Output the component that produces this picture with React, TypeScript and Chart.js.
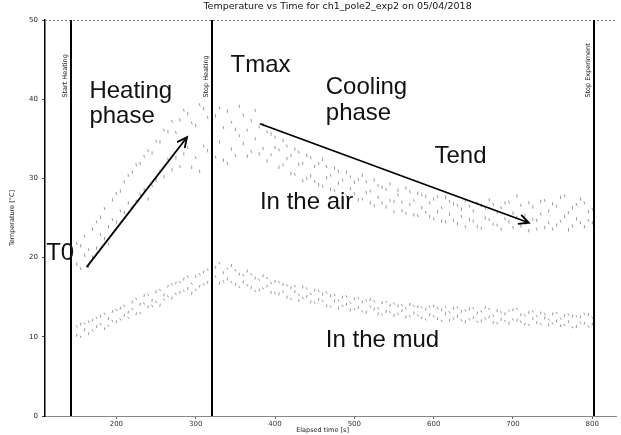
import { useEffect, useRef } from "react";
import { Chart, registerables } from "chart.js";

Chart.register(...registerables);

const chartTitle = "Temperature vs Time for ch1_pole2_exp2 on 05/04/2018";
const xAxisTitle = "Elapsed time [s]";
const yAxisTitle = "Temperature [°C]";

const xTickValues = [200, 300, 400, 500, 600, 700, 800];
const yTickValues = [0, 10, 20, 30, 40, 50];

const times = [
  150, 155, 160, 165, 170, 175, 180, 185, 190, 195,
  200, 205, 210, 215, 220, 225, 230, 235, 240, 245,
  250, 255, 260, 265, 270, 275, 280, 285, 290, 295,
  300, 305, 310, 315, 320, 325, 330, 335, 340, 345,
  350, 355, 360, 365, 370, 375, 380, 385, 390, 395,
  400, 405, 410, 415, 420, 425, 430, 435, 440, 445,
  450, 455, 460, 465, 470, 475, 480, 485, 490, 495,
  500, 505, 510, 515, 520, 525, 530, 535, 540, 545,
  550, 555, 560, 565, 570, 575, 580, 585, 590, 595,
  600, 605, 610, 615, 620, 625, 630, 635, 640, 645,
  650, 655, 660, 665, 670, 675, 680, 685, 690, 695,
  700, 705, 710, 715, 720, 725, 730, 735, 740, 745,
  750, 755, 760, 765, 770, 775, 780, 785, 790, 795,
  800,
];

const airA = [
  19.2, 21.5, 20.3, 18.9, 23.6, 21.2, 25.1, 22.4, 23.9, 27.3,
  24.5, 28.4, 25.7, 26.9, 30.8, 27.1, 31.9, 28.6, 27.4, 33.2,
  29.8, 34.6, 30.2, 35.9, 31.1, 32.6, 37.4, 33.1, 38.2, 31.4,
  36.7, 30.9, 38.8, 33.5, 31.2, 37.9, 34.6, 32.3, 38.5, 33.7,
  36.2, 39.1, 34.4, 32.8, 37.3, 35.0, 33.1, 36.8, 32.2, 35.6,
  33.9, 31.4, 34.8, 32.5, 30.6, 33.7, 31.8, 29.7, 32.9, 30.3,
  31.5, 29.2, 32.4, 30.1, 28.6, 31.3, 29.4, 27.9, 30.8, 28.7,
  29.5, 27.3, 30.4, 28.2, 26.9, 29.8, 27.6, 28.9, 26.4, 29.3,
  27.1, 28.5, 25.9, 28.8, 26.7, 25.4, 28.1, 26.3, 27.7, 25.2,
  27.4, 25.8, 24.6, 27.6, 25.5, 26.8, 24.3, 26.1, 27.2, 24.8,
  25.9, 23.9, 26.6, 25.0, 27.3, 24.2, 25.7, 23.6, 26.9, 24.5,
  25.6, 27.8, 24.0, 25.3, 23.4, 26.4, 24.7, 27.1, 23.8, 25.9,
  26.8, 24.1, 27.6, 25.2, 23.5, 26.3, 24.9, 27.4, 23.9, 25.8,
  24.4,
];

const airB = [
  21.8, 18.6, 22.7, 21.0, 20.1, 24.5, 22.9, 26.2, 21.7, 24.8,
  28.1, 25.9, 29.6, 30.4, 26.3, 31.7, 28.0, 32.8, 33.5, 29.1,
  34.7, 30.9, 36.1, 32.4, 37.2, 35.8, 31.5, 38.6, 33.9, 37.0,
  32.6, 39.3, 34.1, 37.7, 36.0, 32.7, 38.9, 36.4, 31.9, 37.1,
  32.9, 35.4, 38.0, 36.1, 33.4, 38.6, 36.5, 33.8, 35.9, 33.0,
  35.2, 33.6, 31.7, 34.1, 32.9, 30.5, 33.3, 31.9, 30.0, 32.6,
  29.6, 31.9, 29.0, 31.5, 30.4, 28.5, 30.9, 29.8, 27.8, 30.2,
  28.1, 29.9, 27.4, 29.6, 28.4, 26.6, 29.1, 26.9, 28.6, 27.2,
  25.8, 27.9, 27.0, 25.6, 28.3, 27.2, 25.3, 27.9, 25.7, 26.9,
  24.9, 27.7, 26.3, 24.5, 27.1, 24.7, 26.6, 25.2, 23.9, 26.5,
  24.6, 26.9, 23.7, 26.2, 24.8, 26.7, 24.1, 26.3, 24.9, 27.0,
  23.8, 25.1, 26.6, 24.3, 26.9, 24.8, 23.6, 25.5, 27.2, 24.4,
  23.6, 26.5, 24.6, 27.8, 25.7, 24.0, 26.7, 24.4, 26.9, 24.7,
  26.1,
];

const mudA = [
  10.2, 11.6, 10.9, 10.4, 12.1, 11.3, 12.6, 11.0, 12.3, 13.2,
  11.9, 13.6, 12.7, 13.1, 14.4, 12.9, 14.1, 15.2, 13.8, 14.6,
  15.7, 14.0, 15.3, 16.4, 14.9, 16.8, 15.6, 17.3, 16.1, 15.5,
  17.6, 16.4, 18.2, 16.9, 17.4, 18.8, 16.8, 18.1, 17.3, 19.0,
  16.6, 17.9, 16.9, 18.3, 16.2, 17.4, 15.9, 17.7, 16.4, 15.6,
  17.0, 15.4, 16.6, 15.0, 16.2, 15.7, 14.6, 16.3, 15.1, 14.4,
  15.9, 14.7, 15.4, 13.9, 15.2, 14.5, 13.6, 15.0, 14.1, 13.4,
  14.8, 13.7, 14.4, 13.1, 14.7, 13.5, 12.9, 14.3, 13.2, 14.0,
  12.7, 13.9, 13.3, 12.5, 14.1, 13.0, 13.8, 12.4, 13.5, 12.8,
  13.9, 12.3, 13.4, 12.9, 12.1, 13.6, 12.6, 13.2, 11.9, 13.5,
  12.4, 13.0, 12.0, 13.7, 12.5, 11.8, 13.3, 12.2, 12.9, 11.7,
  13.4, 12.1, 12.8, 11.6, 13.1, 12.3, 11.8, 13.0, 12.4, 11.5,
  12.9, 12.0, 11.4, 12.7, 11.9, 12.6, 11.3, 12.5, 11.7, 12.8,
  11.6,
];

const mudB = [
  11.3, 10.0, 11.7, 11.9, 10.8, 12.4, 11.6, 12.9, 11.4, 12.0,
  13.4, 12.2, 13.9, 12.4, 13.5, 14.8, 13.0, 14.2, 15.3, 13.9,
  14.4, 15.9, 14.7, 15.1, 16.6, 15.4, 16.9, 15.8, 17.6, 16.7,
  15.9, 17.9, 16.6, 18.5, 16.4, 17.6, 19.3, 17.0, 18.6, 16.9,
  18.4, 16.3, 17.8, 16.5, 17.9, 15.8, 17.2, 16.1, 17.4, 16.8,
  15.5, 16.9, 15.7, 16.5, 14.8, 16.4, 15.3, 14.9, 16.1, 15.4,
  14.3, 15.8, 14.5, 15.6, 13.8, 15.3, 14.6, 13.9, 15.1, 14.3,
  13.5, 14.9, 13.2, 14.6, 13.8, 14.5, 13.6, 12.8, 14.4, 13.1,
  14.2, 12.9, 14.0, 13.6, 12.6, 13.9, 12.7, 13.7, 12.2, 13.8,
  12.6, 13.6, 12.0, 13.8, 13.1, 12.3, 13.7, 12.1, 13.3, 12.2,
  13.6, 11.9, 13.2, 12.3, 13.5, 12.7, 11.7, 13.1, 12.0, 13.3,
  12.2, 13.5, 11.9, 12.7, 11.5, 13.2, 12.6, 11.6, 12.9, 12.2,
  11.7, 13.0, 12.3, 11.5, 12.8, 11.2, 12.6, 11.8, 12.9, 11.3,
  12.4,
];

// vertical event markers (elapsed time, label)
const eventTimes = [142.5, 321, 802.5];
const eventLabels = ["Start Heating", "Stop Heating", "Stop Experiment"];

// annotation arrows [x0, y0, x1, y1] in data units
const arrowHeating = [162.5, 18.8, 289, 35.2];
const arrowCooling = [381, 36.9, 720, 24.4];

// annotation texts: text, x (s), y (°C baseline)
const noteTexts = ["Heating", "phase", "Tmax", "Cooling", "phase", "Tend", "In the air", "In the mud", "T0"];
const noteX = [166, 166, 344, 464, 464, 601, 381, 464, 111.5];
const noteY = [40.2, 37.0, 43.4, 40.7, 37.4, 31.9, 26.1, 8.7, 19.7];

function toPoints(xs: number[], ys: number[]) {
  return xs.map((x, i) => ({ x, y: ys[i] }));
}

const overlayPlugin = {
  id: "overlay",
  afterDatasetsDraw(chart: any) {
    const { ctx, chartArea, scales } = chart;
    const xs = scales.x;
    const ys = scales.y;
    ctx.save();

    // dotted top border
    ctx.strokeStyle = "#777";
    ctx.lineWidth = 1;
    ctx.setLineDash([2, 2]);
    ctx.beginPath();
    ctx.moveTo(chartArea.left, chartArea.top + 0.5);
    ctx.lineTo(chartArea.right, chartArea.top + 0.5);
    ctx.stroke();
    ctx.setLineDash([]);

    // event lines and labels
    eventTimes.forEach((t, i) => {
      const px = Math.round(xs.getPixelForValue(t));
      ctx.strokeStyle = "#000";
      ctx.lineWidth = 2;
      ctx.beginPath();
      ctx.moveTo(px, chartArea.top);
      ctx.lineTo(px, chartArea.bottom);
      ctx.stroke();
      ctx.save();
      ctx.translate(px - 6, ys.getPixelForValue(40.2));
      ctx.rotate(-Math.PI / 2);
      ctx.fillStyle = "#222";
      ctx.font = "6.5px 'DejaVu Sans'";
      ctx.textAlign = "left";
      ctx.textBaseline = "middle";
      ctx.fillText(eventLabels[i], 0, 0);
      ctx.restore();
    });

    // arrows
    const drawArrow = (a: number[]) => {
      const x0 = xs.getPixelForValue(a[0]);
      const y0 = ys.getPixelForValue(a[1]);
      const x1 = xs.getPixelForValue(a[2]);
      const y1 = ys.getPixelForValue(a[3]);
      ctx.strokeStyle = "#000";
      ctx.lineWidth = 1.8;
      ctx.beginPath();
      ctx.moveTo(x0, y0);
      ctx.lineTo(x1, y1);
      ctx.stroke();
      const ang = Math.atan2(y1 - y0, x1 - x0);
      const L = 11;
      ctx.beginPath();
      ctx.moveTo(x1 - L * Math.cos(ang - 0.45), y1 - L * Math.sin(ang - 0.45));
      ctx.lineTo(x1, y1);
      ctx.lineTo(x1 - L * Math.cos(ang + 0.45), y1 - L * Math.sin(ang + 0.45));
      ctx.stroke();
    };
    drawArrow(arrowHeating);
    drawArrow(arrowCooling);

    // annotation texts
    ctx.fillStyle = "#111";
    ctx.font = "24px 'Liberation Sans'";
    ctx.textAlign = "left";
    ctx.textBaseline = "alphabetic";
    noteTexts.forEach((t, i) => {
      ctx.fillText(t, xs.getPixelForValue(noteX[i]), ys.getPixelForValue(noteY[i]));
    });

    // chart title
    ctx.fillStyle = "#111";
    ctx.font = "9.5px 'DejaVu Sans'";
    ctx.textAlign = "center";
    ctx.textBaseline = "middle";
    ctx.fillText(chartTitle, (chartArea.left + chartArea.right) / 2 + 7, 7);

    // axis titles
    ctx.font = "6.5px 'DejaVu Sans'";
    ctx.fillStyle = "#222";
    ctx.fillText(xAxisTitle, (chartArea.left + chartArea.right) / 2 - 8, 430);
    ctx.save();
    ctx.translate(12, (chartArea.top + chartArea.bottom) / 2);
    ctx.rotate(-Math.PI / 2);
    ctx.fillText(yAxisTitle, 0, 0);
    ctx.restore();

    ctx.restore();
  },
};

export default function App() {
  const ref = useRef<HTMLCanvasElement | null>(null);

  useEffect(() => {
    document.body.style.margin = "0";
    const canvas = ref.current;
    if (!canvas) return;
    const markColor = "rgba(80,80,80,0.65)";
    const common = { pointStyle: "line", borderWidth: 0.9, borderColor: markColor, backgroundColor: markColor };
    const chart = new Chart(canvas, {
      type: "scatter",
      data: {
        datasets: [
          { label: "air A", data: toPoints(times, airA), rotation: 90, radius: 1.7, ...common },
          { label: "air B", data: toPoints(times, airB), rotation: 75, radius: 1.5, ...common },
          { label: "mud A", data: toPoints(times, mudA), rotation: 100, radius: 1.5, ...common },
          { label: "mud B", data: toPoints(times, mudB), rotation: 60, radius: 1.3, ...common },
        ] as any,
      },
      options: {
        responsive: false,
        animation: false,
        devicePixelRatio: 1,
        layout: { padding: { top: 20, right: 0, bottom: 0, left: 0 } },
        plugins: {
          legend: { display: false },
          title: { display: false },
          tooltip: { enabled: false },
        },
        scales: {
          x: {
            type: "linear",
            min: 110,
            max: 830,
            afterFit: (s: any) => { s.height = 19; },
            afterBuildTicks: (s: any) => { s.ticks = xTickValues.map((v) => ({ value: v })); },
            ticks: { font: { size: 7, family: "'DejaVu Sans'" }, color: "#333", padding: 1, maxRotation: 0 },
            grid: { display: true, drawOnChartArea: false, drawTicks: true, tickLength: 3, color: "#666" },
            border: { display: true, color: "#888", width: 1 },
          },
          y: {
            type: "linear",
            min: 0,
            max: 50,
            afterFit: (s: any) => { s.width = 45; },
            afterBuildTicks: (s: any) => { s.ticks = yTickValues.map((v) => ({ value: v })); },
            ticks: { font: { size: 7, family: "'DejaVu Sans'" }, color: "#222", padding: 4 },
            grid: { display: true, drawOnChartArea: false, drawTicks: true, tickLength: 3, color: "#444" },
            border: { display: true, color: "#000", width: 1.5 },
          },
        },
      } as any,
      plugins: [overlayPlugin],
    });
    return () => chart.destroy();
  }, []);

  return <canvas ref={ref} width={621} height={435} style={{ display: "block" }} />;
}
